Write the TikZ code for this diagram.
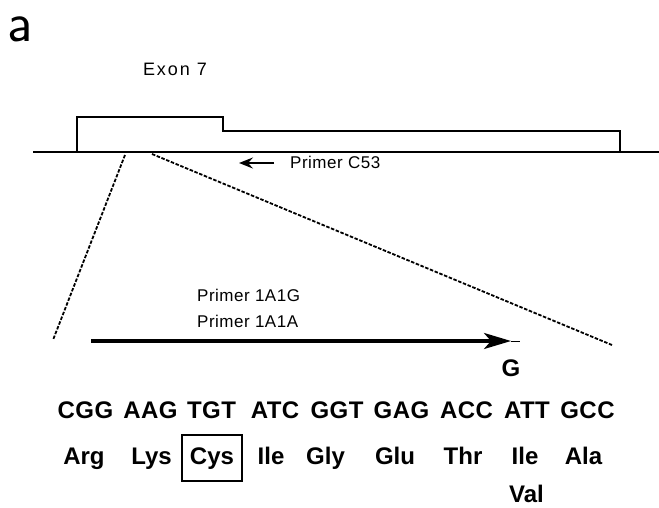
\documentclass[tikz,border=0pt]{standalone}
\usepackage{fontspec}
\setmainfont{Liberation Sans}
\usetikzlibrary{arrows.meta}
\begin{document}
\begin{tikzpicture}[x=1pt,y=-1pt,
  lab/.style={font=\fontsize{17}{20}\selectfont\addfontfeature{LetterSpace=3}, inner sep=0pt, anchor=base west},
  codon/.style={font=\fontsize{24}{28}\selectfont\bfseries\addfontfeature{LetterSpace=2}, inner sep=0pt, anchor=base},
  amino/.style={font=\fontsize{24}{28}\selectfont\bfseries, inner sep=0pt, anchor=base},
  thickl/.style={line width=2.8pt},
  dashl/.style={line width=1.8pt, dash pattern=on 3.5pt off 1.6pt},
]
\useasboundingbox (0,0) rectangle (659,507);

% panel letter
\node[font=\sffamily\fontsize{56}{60}\selectfont, inner sep=0pt, text height=26pt, text depth=0pt, anchor=base west] (panel) at (7,41) {a};

% gene line and exon
\coordinate (bl) at (33,152);
\coordinate (br) at (659,152);
\draw[thickl] (bl) -- (br);
\draw[thickl, line join=miter] (77,152) -- (77,117) -- (223,117) -- (223,131) -- (620,131) -- (620,152);
\node[lab, anchor=base, font=\fontsize{18}{21}\selectfont\addfontfeature{LetterSpace=11}] (exon) at (175,75) {Exon 7};

% primer C53
\coordinate (c53s) at (274,163);
\coordinate (c53e) at (239,163);
\draw[line width=2pt, -{Stealth[length=14pt,width=11pt,inset=5pt]}] (c53s) -- (c53e);
\node[lab] (pc53) at (290,168) {Primer C53};

% zoom lines
\coordinate (dl1) at (125,155);
\coordinate (dl2) at (53,340);
\coordinate (dr1) at (152,154);
\coordinate (dr2) at (612,345);
\draw[dashl] (dl1) -- (dl2);
\draw[dashl] (dr1) -- (dr2);

% primers 1A1G / 1A1A
\node[lab] (p1g) at (197,301) {Primer 1A1G};
\node[lab] (p1a) at (197,327) {Primer 1A1A};
\coordinate (pas) at (91,341);
\coordinate (pae) at (511,341);
\coordinate (pat) at (520,341);
\draw[line width=1pt] (pae) -- (pat);
\draw[line width=3.2pt, -{Stealth[length=27pt,width=16pt,inset=7pt]}] (pas) -- (pae);

\node[codon] (G) at (511,376) {G};

% codons
\foreach \t/\x [count=\i] in {CGG/85.5,AAG/150.5,TGT/211.5,ATC/275,GGT/337,GAG/401.5,ACC/466.5,ATT/527,GCC/587.5}
  \node[codon] (cod\i) at (\x,418) {\t};

% amino acids
\foreach \t/\x [count=\i] in {Arg/84,Lys/151.5,Ile/271,Gly/325.5,Glu/395,Thr/463,Ile/525,Ala/583.5}
  \node[amino] (aa\i) at (\x,464) {\t};
\node[amino, draw, line width=2.2pt, text height=17pt, text depth=5pt, inner xsep=0pt, inner ysep=12pt, minimum width=60pt] (cys) at (212,464) {Cys};
\node[amino] (val) at (526.5,502) {Val};
\end{tikzpicture}
\end{document}
